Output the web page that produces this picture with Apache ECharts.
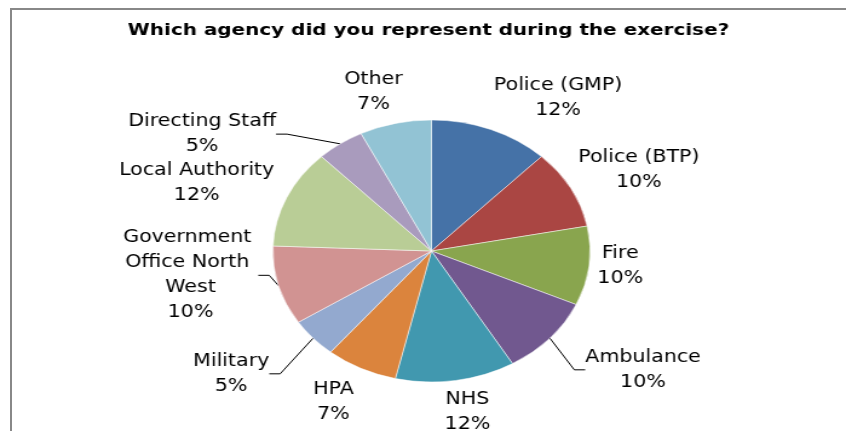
<!DOCTYPE html>
<html><head><meta charset="utf-8">
<script src="https://cdn.jsdelivr.net/npm/echarts@6/dist/echarts.min.js"></script>
<style>
html,body{margin:0;padding:0;background:#fff;overflow:hidden}
#wrap{width:846px;height:431px;overflow:hidden;position:relative;background:#fff}
#chart{width:699px;height:431px;transform:scaleX(1.2103);transform-origin:0 0}
#frame{position:absolute;left:10px;top:8px;width:2000px;height:2000px;border-top:2px solid #888;border-left:2px solid #888;pointer-events:none;z-index:2}
</style></head><body>
<div id="wrap"><div id="chart"></div><div id="frame"></div></div>
<script>
// ---- data ----
const titleText = 'Which agency did you represent during the exercise?';
const categories = ['Police (GMP)', 'Police (BTP)', 'Fire', 'Ambulance', 'NHS', 'HPA',
  'Military', 'Government Office North West', 'Local Authority', 'Directing Staff', 'Other'];
const responses = [5, 4, 4, 4, 5, 3, 2, 4, 5, 2, 3];
// ---- styling / layout ----
const colors = ['#4572A7', '#AA4643', '#89A54E', '#71588F', '#4198AF', '#DB843D',
  '#93A9CF', '#D19392', '#B9CD96', '#A99BBD', '#92C3D4'];
const leaderLine = [false, false, false, true, false, false, true, true, false, true, false];
const labelNudge = [[0,0],[0,10],[0,-9],[24,2],[0,0],[-3,2],[-31,6],[-10,-52],[-4,14],[-49,21],[0,0]];

const CX = 356.5, CY = 251, R = 131, GAP = 7;
const total = responses.reduce((a, b) => a + b, 0);
const midAngle = [];
let acc = 0;
responses.forEach(v => { midAngle.push((acc + v / 2) / total * 2 * Math.PI); acc += v; });
const sat = t => Math.max(-1, Math.min(1, 3 * t));

const chart = echarts.init(document.getElementById('chart'), null, {renderer: 'canvas'});
const option = {
  animation: false,
  backgroundColor: '#fff',
  title: {
    text: titleText,
    left: 354, top: 21, textAlign: 'center', padding: 0,
    textStyle: {fontFamily: 'DejaVu Sans', fontWeight: 'bold', fontSize: 16.5, lineHeight: 20, color: '#000'}
  },
  series: [{
    type: 'pie',
    center: [CX, CY],
    radius: R,
    startAngle: 90,
    clockwise: true,
    avoidLabelOverlap: false,
    itemStyle: {borderColor: '#fff', borderWidth: 0.5},
    label: {
      show: true, position: 'outside', color: '#000',
      fontFamily: 'DejaVu Sans', fontSize: 17, lineHeight: 25, align: 'center',
      formatter: p => p.name + '\n' + Math.round(p.percent) + '%'
    },
    labelLine: {show: false, length: 10, length2: 9, smooth: false, lineStyle: {color: '#000', width: 1}},
    labelLayout: function (p) {
      const i = p.dataIndex, a = midAngle[i];
      const s = Math.sin(a), c = Math.cos(a);
      const w = p.labelRect.width / 2, h = p.labelRect.height / 2;
      return {
        x: CX + (R + GAP) * s + w * sat(s) + labelNudge[i][0],
        y: CY - (R + GAP) * c - h * sat(c) + labelNudge[i][1],
        align: 'center', verticalAlign: 'middle'
      };
    },
    data: categories.map((name, i) => {
      const item = {name: name, value: responses[i], itemStyle: {color: colors[i]},
        labelLine: {show: leaderLine[i]}};
      if (name.length > 20) item.label = {width: 112, overflow: 'break'};
      return item;
    })
  }]
};
chart.setOption(option);
</script>
</body></html>
